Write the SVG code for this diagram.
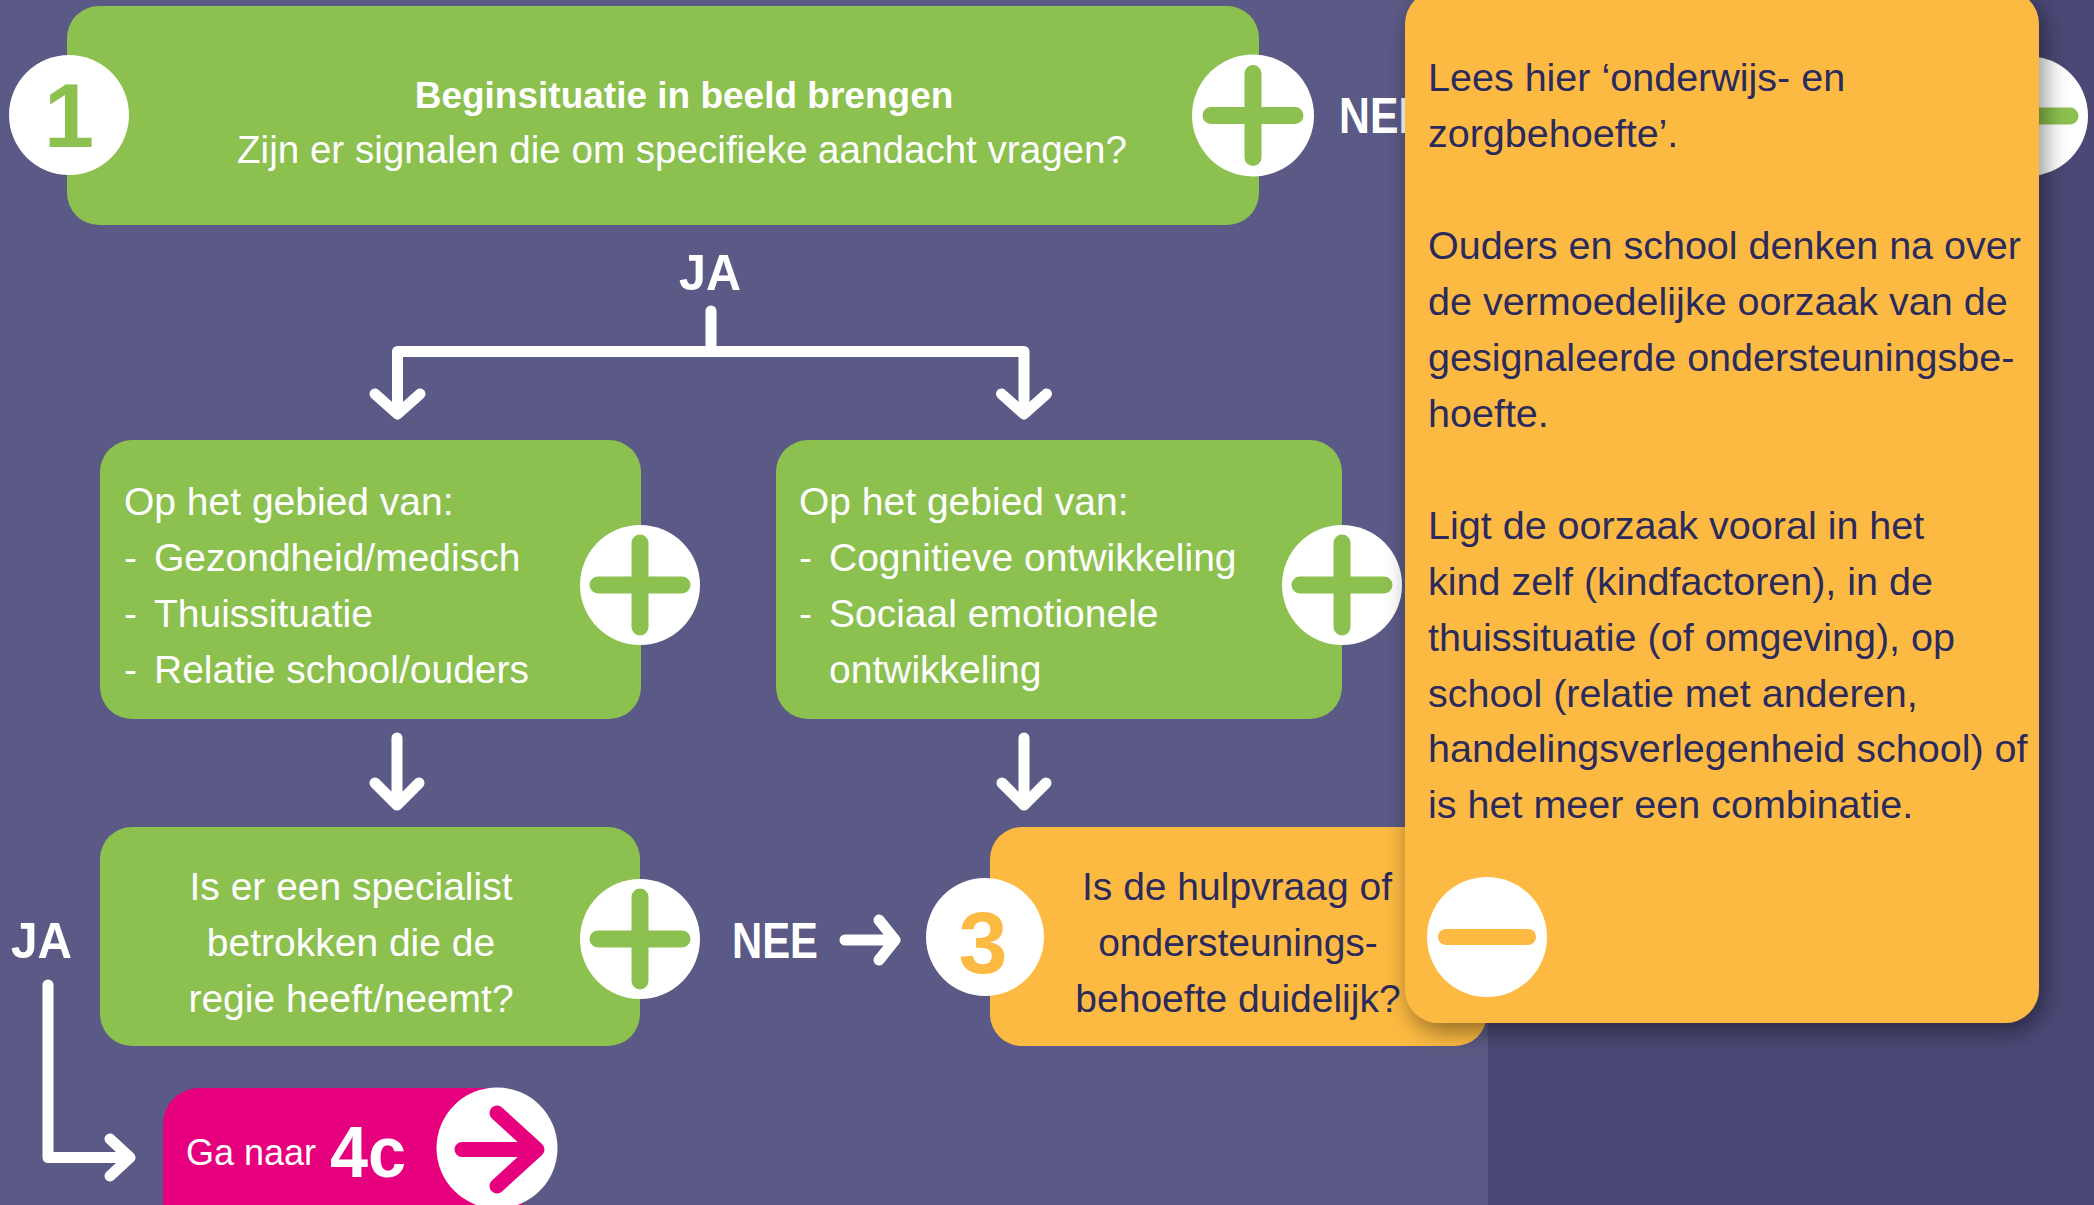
<svg xmlns="http://www.w3.org/2000/svg" width="2094" height="1205" viewBox="0 0 2094 1205">
<defs>
<style>
.t{font-family:"Liberation Sans",Arial,sans-serif;}
.w{fill:#ffffff;}
.n{fill:#2b2a5c;}
.b{font-weight:bold;}
.s39{font-size:39px;}
.conn{fill:none;stroke:#ffffff;stroke-width:11;stroke-linecap:round;stroke-linejoin:round;}
.plus{fill:none;stroke:#8cc04f;stroke-width:17;stroke-linecap:round;}
.green{fill:#8cc04f;}
.orange{fill:#fdba42;}
.disc{fill:#ffffff;}
</style>
<filter id="shadow" x="-10%" y="-10%" width="125%" height="125%">
<feDropShadow dx="5" dy="8" stdDeviation="12" flood-color="#000000" flood-opacity="0.45"/>
</filter>
</defs>

<rect x="0" y="0" width="2094" height="1205" fill="#5b5a86"/>
<rect x="1488" y="0" width="606" height="1205" fill="#4b4876"/>

<g id="connectors">
<path class="conn" d="M711 311 V351.5 M397.5 351.5 H1024 M397.5 351.5 V412 M1024 351.5 V412"/>
<path class="conn" d="M375 394 L397.5 414 L420 394 M1001.5 394 L1024 414 L1046.5 394"/>
<path class="conn" d="M397 738 V804 M375 783 L397 805 L419 783"/>
<path class="conn" d="M1024 738 V804 M1002 783 L1024 805 L1046 783"/>
<path class="conn" d="M845 940 H893 M879 920 L895 940 L879 960"/>
<path class="conn" d="M48 985 V1157.5 H129 M110 1139 L130 1157.5 L110 1176"/>
<text class="t w b" x="710" y="290" font-size="50" text-anchor="middle" textLength="62" lengthAdjust="spacingAndGlyphs">JA</text>
<text class="t w b" x="11" y="958" font-size="50" textLength="61" lengthAdjust="spacingAndGlyphs">JA</text>
<text class="t w b" x="732" y="958" font-size="50" textLength="86" lengthAdjust="spacingAndGlyphs">NEE</text>
<text class="t w b" x="1339" y="133" font-size="50" textLength="88" lengthAdjust="spacingAndGlyphs">NEE</text>
</g>

<g id="node-1">
<rect class="green" x="67" y="6" width="1192" height="219" rx="32"/>
<circle class="disc" cx="69" cy="115" r="60"/>
<text class="t b" x="69" y="147" font-size="90" text-anchor="middle" fill="#8cc04f">1</text>
<text class="t w b" x="684" y="108" font-size="37" text-anchor="middle">Beginsituatie in beeld brengen</text>
<text class="t w" x="682" y="163" font-size="38.6" text-anchor="middle">Zijn er signalen die om specifieke aandacht vragen?</text>
<circle class="disc" cx="1253" cy="115.5" r="61"/>
<path class="plus" d="M1211 115.5 H1295 M1253 73.5 V157.5"/>
</g>

<g id="node-minus-top">
<circle class="disc" cx="2028" cy="116" r="60"/>
<path class="plus" d="M1994 116 H2070" stroke-width="15"/>
</g>

<g id="node-left">
<rect class="green" x="100" y="440" width="541" height="279" rx="32"/>
<text class="t w s39" x="124" y="515">Op het gebied van:</text>
<text class="t w s39" y="571"><tspan x="124">-</tspan><tspan x="154">Gezondheid/medisch</tspan></text>
<text class="t w s39" y="627"><tspan x="124">-</tspan><tspan x="154">Thuissituatie</tspan></text>
<text class="t w s39" y="683"><tspan x="124">-</tspan><tspan x="154">Relatie school/ouders</tspan></text>
<circle class="disc" cx="640" cy="585" r="60"/>
<path class="plus" d="M598 585 H682 M640 543 V627"/>
</g>

<g id="node-right">
<rect class="green" x="776" y="440" width="566" height="279" rx="32"/>
<text class="t w s39" x="799" y="515">Op het gebied van:</text>
<text class="t w s39" y="571"><tspan x="799">-</tspan><tspan x="829">Cognitieve ontwikkeling</tspan></text>
<text class="t w s39" y="627"><tspan x="799">-</tspan><tspan x="829">Sociaal emotionele</tspan></text>
<text class="t w s39" x="829" y="683">ontwikkeling</text>
<circle class="disc" cx="1342" cy="585" r="60"/>
<path class="plus" d="M1300 585 H1384 M1342 543 V627"/>
</g>

<g id="node-specialist">
<rect class="green" x="100" y="827" width="540" height="219" rx="32"/>
<text class="t w s39" x="351" y="900" text-anchor="middle">Is er een specialist</text>
<text class="t w s39" x="351" y="956" text-anchor="middle">betrokken die de</text>
<text class="t w s39" x="351" y="1012" text-anchor="middle">regie heeft/neemt?</text>
<circle class="disc" cx="640" cy="939" r="60"/>
<path class="plus" d="M598 939 H682 M640 897 V981"/>
</g>

<g id="node-3">
<rect class="orange" x="990" y="827" width="497" height="219" rx="32"/>
<circle class="disc" cx="985" cy="937" r="59"/>
<text class="t b" x="983" y="973" font-size="88" text-anchor="middle" fill="#fdba42">3</text>
<text class="t n s39" x="1237" y="900" text-anchor="middle">Is de hulpvraag of</text>
<text class="t n s39" x="1238" y="956" text-anchor="middle">ondersteunings-</text>
<text class="t n s39" x="1238" y="1012" text-anchor="middle">behoefte duidelijk?</text>
</g>

<g id="node-4c">
<rect x="163" y="1088" width="360" height="160" rx="36" fill="#e6007e"/>
<text class="t w" x="186" y="1165" font-size="36">Ga naar</text>
<text class="t w b" x="330" y="1177" font-size="72" textLength="76" lengthAdjust="spacingAndGlyphs">4c</text>
<circle class="disc" cx="497" cy="1148" r="60.5"/>
<path d="M462 1149.5 H533 M497 1113 L537 1149.5 L497 1186" fill="none" stroke="#e6007e" stroke-width="15" stroke-linecap="round" stroke-linejoin="round"/>
</g>

<g id="node-popup">
<rect class="orange" x="1405" y="-10" width="634" height="1033" rx="34" filter="url(#shadow)"/>
<g class="t n" font-size="39.5">
<text x="1428" y="91">Lees hier ‘onderwijs- en</text>
<text x="1428" y="147">zorgbehoefte’.</text>
<text x="1428" y="259">Ouders en school denken na over</text>
<text x="1428" y="315">de vermoedelijke oorzaak van de</text>
<text x="1428" y="371">gesignaleerde ondersteuningsbe-</text>
<text x="1428" y="427">hoefte.</text>
<text x="1428" y="539">Ligt de oorzaak vooral in het</text>
<text x="1428" y="595">kind zelf (kindfactoren), in de</text>
<text x="1428" y="651">thuissituatie (of omgeving), op</text>
<text x="1428" y="707">school (relatie met anderen,</text>
<text x="1428" y="762">handelingsverlegenheid school) of</text>
<text x="1428" y="818">is het meer een combinatie.</text>
</g>
<circle class="disc" cx="1487" cy="937" r="60"/>
<path d="M1446 937 H1528" fill="none" stroke="#fdba42" stroke-width="16" stroke-linecap="round"/>
</g>
</svg>
